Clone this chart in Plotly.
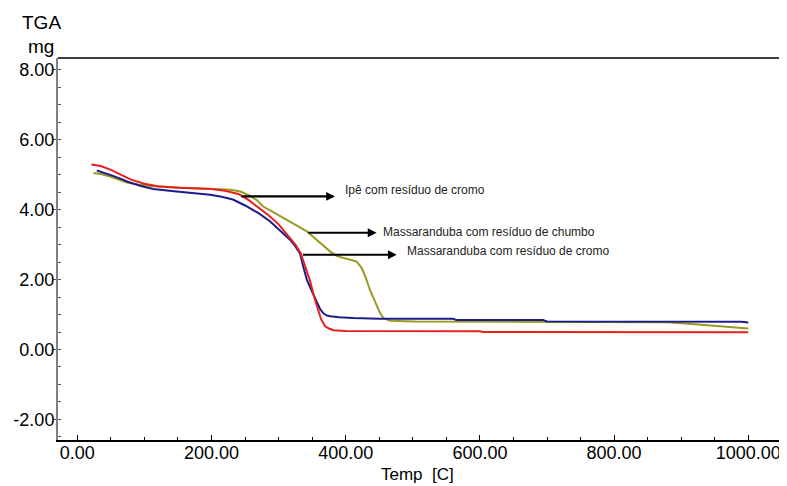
import plotly.graph_objects as go

# Series data (Temp in C, TGA in mg)
red_x = [21, 35, 50, 65, 80, 100, 120, 150, 180, 200, 220, 240, 255, 270, 285, 300, 315, 325, 333,
         340, 347, 353, 358, 363, 369, 375, 382, 400, 600, 605, 1000]
red_y = [5.29, 5.25, 5.14, 5.00, 4.86, 4.74, 4.67, 4.63, 4.61, 4.59, 4.54, 4.45, 4.28, 4.05, 3.84,
         3.58, 3.25, 3.00, 2.75, 2.35, 1.95, 1.50, 1.15, 0.88, 0.67, 0.60, 0.55, 0.53, 0.52, 0.50, 0.49]

blue_x = [29, 40, 50, 65, 75, 95, 113, 148, 175, 198, 215, 232, 250, 270, 287, 300, 317, 325, 332,
          337, 342, 350, 357, 362, 367, 372, 377, 390, 411, 450, 560, 565, 694, 700, 990, 1000]
blue_y = [5.12, 5.06, 4.99, 4.88, 4.80, 4.68, 4.59, 4.52, 4.48, 4.43, 4.37, 4.29, 4.12, 3.90, 3.67,
          3.45, 3.14, 2.95, 2.74, 2.35, 2.00, 1.65, 1.33, 1.15, 1.03, 0.97, 0.95, 0.92, 0.90, 0.88,
          0.88, 0.84, 0.84, 0.80, 0.79, 0.77]

green_x = [24, 35, 49, 60, 74, 90, 113, 140, 172, 213, 228, 243, 257, 267, 277, 290, 302, 320, 342,
           355, 367, 377, 387, 400, 416, 424, 430, 436, 446, 451, 456, 466, 503, 563, 880, 920, 960, 1000]
green_y = [5.05, 5.02, 4.95, 4.88, 4.78, 4.72, 4.67, 4.64, 4.62, 4.59, 4.57, 4.52, 4.40, 4.28, 4.09,
           3.95, 3.81, 3.62, 3.38, 3.17, 2.95, 2.80, 2.67, 2.60, 2.52, 2.33, 2.05, 1.71, 1.24, 1.05,
           0.90, 0.82, 0.80, 0.80, 0.78, 0.72, 0.67, 0.60]

# Annotation labels and arrow endpoints
labels = ["Ipê com resíduo de cromo",
          "Massaranduba com resíduo de chumbo",
          "Massaranduba com resíduo de cromo"]
arrow_tail_x = [242, 342, 334]
arrow_head_x = [384, 446, 476]
arrow_y = [4.38, 3.34, 2.71]
label_x = [396, 452, 488]
label_y = [4.55, 3.37, 2.81]

x_ticks = [0, 200, 400, 600, 800, 1000]
x_tick_text = ["0.00", "200.00", "400.00", "600.00", "800.00", "1000.00"]
y_ticks = [-2, 0, 2, 4, 6, 8]
y_tick_text = ["-2.00", "0.00", "2.00", "4.00", "6.00", "8.00"]

FONT = "Liberation Sans, Arial, sans-serif"

fig = go.Figure()
fig.add_trace(go.Scatter(x=green_x, y=green_y, mode="lines",
                         line=dict(color="#9a9a22", width=2), showlegend=False))
fig.add_trace(go.Scatter(x=blue_x, y=blue_y, mode="lines",
                         line=dict(color="#1c1c8a", width=2), showlegend=False))
fig.add_trace(go.Scatter(x=red_x, y=red_y, mode="lines",
                         line=dict(color="#e8201c", width=2), showlegend=False))

annotations = []
for tx, hx, ay in zip(arrow_tail_x, arrow_head_x, arrow_y):
    annotations.append(dict(x=hx, y=ay, ax=tx, ay=ay, xref="x", yref="y",
                            axref="x", ayref="y", text="", showarrow=True,
                            arrowhead=2, arrowsize=0.8, arrowwidth=2.2, arrowcolor="black"))
for lx, ly, t in zip(label_x, label_y, labels):
    annotations.append(dict(x=lx, y=ly, xref="x", yref="y", text=t, showarrow=False,
                            xanchor="left", yanchor="middle",
                            font=dict(family=FONT, size=12, color="#222222")))

# The page body has an 8px margin, so the figure is drawn 8px in from the top-left.
OFF = 8
W, H = 787 - OFF, 486 - OFF
L, R, T, B = 58 - OFF, 4, 58 - OFF, 46
pw, ph = W - L - R, H - T - B

def px_to_paper(x, y):
    return (x - OFF - L) / pw, 1 - (y - OFF - T) / ph

for txt, (px, py), size in [("TGA", (41, 22), 19), ("mg", (41, 46), 19), ("Temp  [C]", (417, 474), 17)]:
    ax_, ay_ = px_to_paper(px, py)
    annotations.append(dict(x=ax_, y=ay_, xref="paper", yref="paper", text=txt, showarrow=False,
                            xanchor="center", yanchor="middle",
                            font=dict(family=FONT, size=size, color="black")))

# plot frame: top (black) and right (gray) borders
shapes = [
    dict(type="line", xref="paper", yref="paper", x0=0, x1=1, y0=1, y1=1,
         line=dict(color="black", width=1.5)),
    dict(type="line", xref="paper", yref="paper", x0=1, x1=1, y0=0, y1=1,
         line=dict(color="#808080", width=2)),
]

fig.update_layout(
    width=W, height=H,
    margin=dict(l=L, r=R, t=T, b=B, autoexpand=False),
    paper_bgcolor="white", plot_bgcolor="white",
    font=dict(family=FONT, size=18, color="black"),
    annotations=annotations,
    shapes=shapes,
    xaxis=dict(range=[-28.8, 1051.7], tickvals=x_ticks, ticktext=x_tick_text,
               ticks="inside", ticklen=5, tickcolor="black", tickwidth=1,
               minor=dict(dtick=50, tick0=0, ticks="inside", ticklen=3, tickcolor="black"),
               showline=True, linecolor="black", linewidth=1.5, mirror=False,
               showgrid=False, zeroline=False, automargin=False, ticklabelstandoff=-4,
               tickfont=dict(family=FONT, size=18, color="black")),
    yaxis=dict(range=[-2.59, 8.34], tickvals=y_ticks, ticktext=y_tick_text,
               ticks="outside", ticklen=3, tickcolor="#555555", tickwidth=1,
               minor=dict(dtick=0.5, tick0=0, ticks="inside", ticklen=3, tickcolor="#555555"),
               showline=True, linecolor="#808080", linewidth=2, mirror=False,
               showgrid=False, zeroline=False, automargin=False, ticklabelstandoff=-5,
               tickfont=dict(family=FONT, size=18, color="black")),
)

fig.write_html("out.html")
